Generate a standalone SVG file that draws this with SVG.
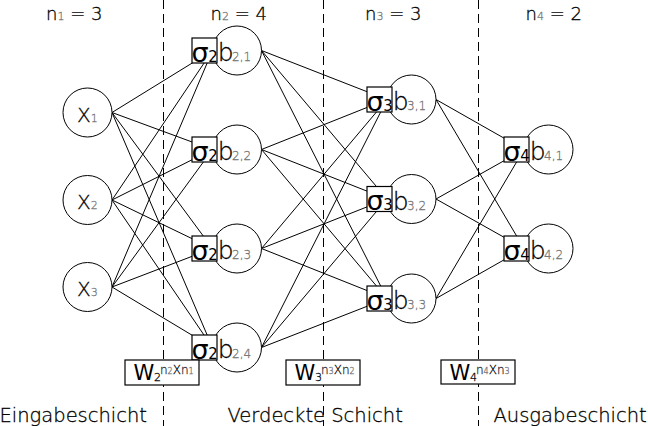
<svg xmlns="http://www.w3.org/2000/svg" width="648" height="426" viewBox="0 0 648 426">
<style>
text{font-family:"DejaVu Sans","Liberation Sans",sans-serif;fill:#000;font-weight:300;stroke:#000;stroke-width:0.3}
.dash{stroke:#000;stroke-width:1;stroke-dasharray:9,5;fill:none}
.con line{stroke:#000;stroke-width:1}
circle{fill:#fff;stroke:#000;stroke-width:1}
rect.s{fill:#fff;stroke:#000;stroke-width:1.2}
rect.w{fill:#fff;stroke:#000;stroke-width:1.2}
.sig{font-size:27px;font-weight:400;stroke:none}
.sigsub{font-size:15px;font-weight:400;stroke:none}
.b{font-size:25px}
.bsub{font-size:12px;fill:#777;stroke:#777}
.x{font-size:20px}
.xsub{font-size:11px;fill:#777;stroke:#777}
.top{font-size:18px}
.tsub{font-size:11px;fill:#777;stroke:#777}
.bot{font-size:19.5px}
.W{font-size:21px;font-weight:400;stroke:none}
.Wsub{font-size:11px}
.sup{font-size:12px;fill:#333;stroke:#333}
.supsub{font-size:8px;fill:#777;stroke:#777}
</style>
<g id="dividers">
<line class="dash" x1="163.5" y1="0" x2="163.5" y2="426"/>
<line class="dash" x1="323.5" y1="0" x2="323.5" y2="426"/>
<line class="dash" x1="478.5" y1="0" x2="478.5" y2="426"/>
</g>
<g id="connectors" class="con">
<line x1="112" y1="112.5" x2="212.5" y2="50.5"/>
<line x1="112" y1="112.5" x2="212.5" y2="149.5"/>
<line x1="112" y1="112.5" x2="212.5" y2="248.5"/>
<line x1="112" y1="112.5" x2="212.5" y2="347.5"/>
<line x1="112" y1="200" x2="212.5" y2="50.5"/>
<line x1="112" y1="200" x2="212.5" y2="149.5"/>
<line x1="112" y1="200" x2="212.5" y2="248.5"/>
<line x1="112" y1="200" x2="212.5" y2="347.5"/>
<line x1="112" y1="287" x2="212.5" y2="50.5"/>
<line x1="112" y1="287" x2="212.5" y2="149.5"/>
<line x1="112" y1="287" x2="212.5" y2="248.5"/>
<line x1="112" y1="287" x2="212.5" y2="347.5"/>
<line x1="261.5" y1="50.5" x2="387" y2="99.5"/>
<line x1="261.5" y1="50.5" x2="387" y2="199"/>
<line x1="261.5" y1="50.5" x2="387" y2="298.5"/>
<line x1="261.5" y1="149.5" x2="387" y2="99.5"/>
<line x1="261.5" y1="149.5" x2="387" y2="199"/>
<line x1="261.5" y1="149.5" x2="387" y2="298.5"/>
<line x1="261.5" y1="248.5" x2="387" y2="99.5"/>
<line x1="261.5" y1="248.5" x2="387" y2="199"/>
<line x1="261.5" y1="248.5" x2="387" y2="298.5"/>
<line x1="261.5" y1="347.5" x2="387" y2="99.5"/>
<line x1="261.5" y1="347.5" x2="387" y2="199"/>
<line x1="261.5" y1="347.5" x2="387" y2="298.5"/>
<line x1="436" y1="99.5" x2="524" y2="149.5"/>
<line x1="436" y1="99.5" x2="524" y2="248.5"/>
<line x1="436" y1="199" x2="524" y2="149.5"/>
<line x1="436" y1="199" x2="524" y2="248.5"/>
<line x1="436" y1="298.5" x2="524" y2="149.5"/>
<line x1="436" y1="298.5" x2="524" y2="248.5"/>
</g>
<g id="x1"><circle cx="87.5" cy="112.5" r="24.5"/><text class="x" x="77" y="121.5">X<tspan class="xsub">1</tspan></text></g>
<g id="x2"><circle cx="87.5" cy="200" r="24.5"/><text class="x" x="77" y="209">X<tspan class="xsub">2</tspan></text></g>
<g id="x3"><circle cx="87.5" cy="287" r="24.5"/><text class="x" x="77" y="296">X<tspan class="xsub">3</tspan></text></g>

<g id="b2_1"><circle cx="237" cy="50.5" r="24.5"/><rect class="s" x="192" y="38" width="25" height="25"/><text class="sig" x="191.5" y="61.5">σ</text><text class="sigsub" x="208.2" y="61.5">2</text><text class="b" x="217.7" y="61">b</text><text class="bsub" x="232" y="61">2,1</text></g>
<g id="b2_2"><circle cx="237" cy="149.5" r="24.5"/><rect class="s" x="192" y="137" width="25" height="25"/><text class="sig" x="191.5" y="160.5">σ</text><text class="sigsub" x="208.2" y="160.5">2</text><text class="b" x="217.7" y="160">b</text><text class="bsub" x="232" y="160">2,2</text></g>
<g id="b2_3"><circle cx="237" cy="248.5" r="24.5"/><rect class="s" x="192" y="236" width="25" height="25"/><text class="sig" x="191.5" y="259.5">σ</text><text class="sigsub" x="208.2" y="259.5">2</text><text class="b" x="217.7" y="259">b</text><text class="bsub" x="232" y="259">2,3</text></g>
<g id="b2_4"><circle cx="237" cy="347.5" r="24.5"/><rect class="s" x="192" y="335" width="25" height="25"/><text class="sig" x="191.5" y="358.5">σ</text><text class="sigsub" x="208.2" y="358.5">2</text><text class="b" x="217.7" y="358">b</text><text class="bsub" x="232" y="358">2,4</text></g>

<g id="b3_1"><circle cx="411.5" cy="99.5" r="24.5"/><rect class="s" x="367" y="87" width="25" height="25"/><text class="sig" x="366.5" y="110.5">σ</text><text class="sigsub" x="383.2" y="110.5">3</text><text class="b" x="392.7" y="110">b</text><text class="bsub" x="407" y="110">3,1</text></g>
<g id="b3_2"><circle cx="411.5" cy="199" r="24.5"/><rect class="s" x="367" y="186.5" width="25" height="25"/><text class="sig" x="366.5" y="210">σ</text><text class="sigsub" x="383.2" y="210">3</text><text class="b" x="392.7" y="209.5">b</text><text class="bsub" x="407" y="209.5">3,2</text></g>
<g id="b3_3"><circle cx="411.5" cy="298.5" r="24.5"/><rect class="s" x="367" y="286" width="25" height="25"/><text class="sig" x="366.5" y="309.5">σ</text><text class="sigsub" x="383.2" y="309.5">3</text><text class="b" x="392.7" y="309">b</text><text class="bsub" x="407" y="309">3,3</text></g>

<g id="b4_1"><circle cx="548.5" cy="149.5" r="24.5"/><rect class="s" x="504" y="137" width="25" height="25"/><text class="sig" x="503.5" y="160.5">σ</text><text class="sigsub" x="520.2" y="160.5">4</text><text class="b" x="529.7" y="160">b</text><text class="bsub" x="544" y="160">4,1</text></g>
<g id="b4_2"><circle cx="548.5" cy="248.5" r="24.5"/><rect class="s" x="504" y="236" width="25" height="25"/><text class="sig" x="503.5" y="259.5">σ</text><text class="sigsub" x="520.2" y="259.5">4</text><text class="b" x="529.7" y="259">b</text><text class="bsub" x="544" y="259">4,2</text></g>

<g id="w2"><rect class="w" x="125" y="360" width="74" height="25"/><text class="W" x="133.5" y="379.5">W</text><text class="Wsub" x="154" y="381">2</text><text class="sup" x="160" y="373.5">n<tspan class="supsub">2</tspan><tspan fill="#000" stroke="#000">X</tspan>n<tspan class="supsub">1</tspan></text></g>
<g id="w3"><rect class="w" x="286" y="360" width="74" height="25"/><text class="W" x="294.5" y="379.5">W</text><text class="Wsub" x="315" y="381">3</text><text class="sup" x="321" y="373.5">n<tspan class="supsub">3</tspan><tspan fill="#000" stroke="#000">X</tspan>n<tspan class="supsub">2</tspan></text></g>
<g id="w4"><rect class="w" x="441" y="360" width="74" height="24"/><text class="W" x="449.5" y="379.5">W</text><text class="Wsub" x="470" y="381">4</text><text class="sup" x="476" y="373.5">n<tspan class="supsub">4</tspan><tspan fill="#000" stroke="#000">X</tspan>n<tspan class="supsub">3</tspan></text></g>

<g id="top-labels">
<text class="top" x="46" y="19.5">n<tspan class="tsub">1</tspan> = 3</text>
<text class="top" x="210.5" y="19.5">n<tspan class="tsub">2</tspan> = 4</text>
<text class="top" x="365" y="19.5">n<tspan class="tsub">3</tspan> = 3</text>
<text class="top" x="525.5" y="19.5">n<tspan class="tsub">4</tspan> = 2</text>
</g>
<g id="bottom-labels">
<text class="bot" x="-0.5" y="421.5">Eingabeschicht</text>
<text class="bot" x="227.5" y="421.5">Verdeckte Schicht</text>
<text class="bot" x="493.5" y="421.5">Ausgabeschicht</text>
</g>
</svg>
